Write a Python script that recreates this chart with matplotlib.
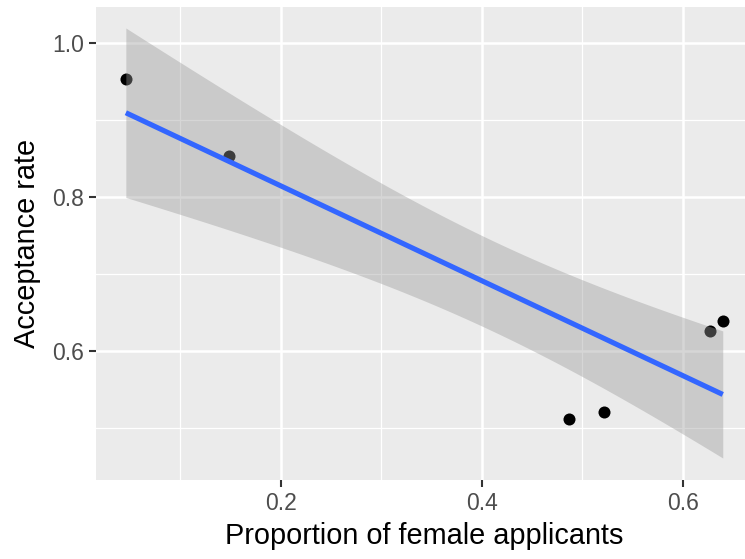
import numpy as np
import matplotlib.pyplot as plt

plt.rcParams["font.family"] = ["Liberation Sans", "DejaVu Sans"]

# one point per department
prop_female = [0.0462, 0.1486, 0.4871, 0.5219, 0.6273, 0.6396]
accept_rate = [0.9538, 0.8530, 0.5126, 0.5211, 0.6268, 0.6393]

# the smoother was fitted on the long table (one row per gender, same values)
n_rows_per_dept = 2
t_crit = 2.228139  # t quantile 0.975, df = 12 - 2

x = np.array(prop_female)
y = np.array(accept_rate)
xf = np.repeat(x, n_rows_per_dept)
yf = np.repeat(y, n_rows_per_dept)

# linear fit + 95% confidence band, like geom_smooth(method = "lm")
n = len(xf)
slope, intercept = np.polyfit(xf, yf, 1)
resid = yf - (intercept + slope * xf)
s = np.sqrt(np.sum(resid ** 2) / (n - 2))
sxx = np.sum((xf - xf.mean()) ** 2)
xs = np.linspace(x.min(), x.max(), 80)
fit = intercept + slope * xs
se = s * np.sqrt(1 / n + (xs - xf.mean()) ** 2 / sxx)
lo = fit - t_crit * se
hi = fit + t_crit * se

W, H = 745, 559
fig = plt.figure(figsize=(W / 100, H / 100), dpi=100)
ax = fig.add_axes([96 / W, (H - 479.5) / H, (752.6 - 96) / W, (479.5 - 6.5) / H])
ax.set_facecolor("#EBEBEB")
for sp in ax.spines.values():
    sp.set_visible(False)

ax.scatter(x, y, s=75, color="black", linewidths=0, zorder=3)
ax.fill_between(xs, lo, hi, color="#999999", alpha=0.4, linewidth=0, zorder=4)
ax.plot(xs, fit, color="#3366FF", linewidth=3.7, zorder=5, solid_capstyle="butt")

# ggplot-like expansion of 5%
xr = x.max() - x.min()
ax.set_xlim(x.min() - 0.05 * xr, x.max() + 0.05 * xr)
ymin, ymax = min(y.min(), lo.min()), max(y.max(), hi.max())
yr = ymax - ymin
ax.set_ylim(ymin - 0.05 * yr, ymax + 0.05 * yr)

ax.set_xticks([0.2, 0.4, 0.6])
ax.set_xticks([0.1, 0.3, 0.5], minor=True)
ax.set_yticks([0.6, 0.8, 1.0])
ax.set_yticks([0.5, 0.7, 0.9], minor=True)
ax.set_xticklabels(["0.2", "0.4", "0.6"])
ax.set_yticklabels(["0.6", "0.8", "1.0"])
ax.grid(which="major", color="white", linewidth=1.8, zorder=0)
ax.grid(which="minor", color="white", linewidth=0.9, zorder=0)
ax.set_axisbelow(True)

ax.tick_params(which="major", length=4.8, width=1.5, color="#333333",
               labelcolor="#4D4D4D", labelsize=16.5, pad=4)
ax.tick_params(which="minor", length=0)

ax.set_xlabel("Proportion of female applicants", fontsize=20.8, labelpad=5)
ax.set_ylabel("Acceptance rate", fontsize=20.8, labelpad=8)

fig.savefig("out.png", dpi=100)
